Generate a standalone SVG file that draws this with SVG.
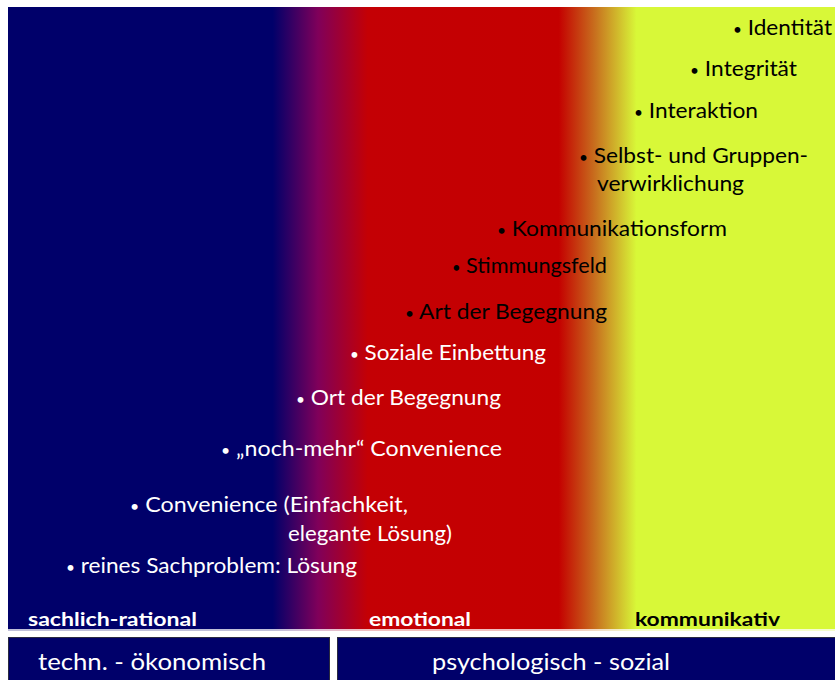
<svg xmlns="http://www.w3.org/2000/svg" width="835" height="680" viewBox="0 0 835 680">
<defs>
<linearGradient id="band" gradientUnits="userSpaceOnUse" x1="8" y1="0" x2="835" y2="0">
<stop offset="0" stop-color="#00006a"/>
<stop offset="0.32" stop-color="#00006a"/>
<stop offset="0.375" stop-color="#80005a"/>
<stop offset="0.435" stop-color="#c40004"/>
<stop offset="0.666" stop-color="#c40000"/>
<stop offset="0.71" stop-color="#c8701e"/>
<stop offset="0.76" stop-color="#d8f838"/>
<stop offset="1" stop-color="#d8f838"/>
</linearGradient>
<style>
.it{font-family:Lato,"Liberation Sans",sans-serif;font-size:22px}
.b{font-size:15px}
.w{fill:#ffffff}
.k{fill:#000000}
.lab{font-family:Lato,"Liberation Sans",sans-serif;font-size:19px;font-weight:bold}
.box{fill:#00006a;stroke:#2a2a40;stroke-width:1}
.bt{font-family:Lato,"Liberation Sans",sans-serif;font-size:23px;fill:#ffffff}
</style>
</defs>
<rect x="0" y="0" width="835" height="680" fill="#ffffff"/>
<rect id="band-bg" x="8" y="7" width="827" height="624" fill="url(#band)"/>
<rect x="8" y="629" width="827" height="2" fill="#ffffff" opacity="0.75"/>
<g id="connectors"/>
<g id="n-identitaet"><text class="it k" x="733" y="35" textLength="99" lengthAdjust="spacingAndGlyphs"><tspan class="b">•</tspan> Identität</text></g>
<g id="n-integritaet"><text class="it k" x="690" y="76" textLength="107" lengthAdjust="spacingAndGlyphs"><tspan class="b">•</tspan> Integrität</text></g>
<g id="n-interaktion"><text class="it k" x="634" y="118" textLength="124" lengthAdjust="spacingAndGlyphs"><tspan class="b">•</tspan> Interaktion</text></g>
<g id="n-selbst"><text class="it k" x="579" y="163" textLength="229" lengthAdjust="spacingAndGlyphs"><tspan class="b">•</tspan> Selbst- und Gruppen-</text><text class="it k" x="597" y="191" textLength="147" lengthAdjust="spacingAndGlyphs">verwirklichung</text></g>
<g id="n-kommform"><text class="it k" x="497" y="236" textLength="230" lengthAdjust="spacingAndGlyphs"><tspan class="b">•</tspan> Kommunikationsform</text></g>
<g id="n-stimmung"><text class="it k" x="452" y="273" textLength="155" lengthAdjust="spacingAndGlyphs"><tspan class="b">•</tspan> Stimmungsfeld</text></g>
<g id="n-art"><text class="it k" x="405" y="319" textLength="202" lengthAdjust="spacingAndGlyphs"><tspan class="b">•</tspan> Art der Begegnung</text></g>
<g id="n-sozial"><text class="it w" x="350" y="360" textLength="196" lengthAdjust="spacingAndGlyphs"><tspan class="b">•</tspan> Soziale Einbettung</text></g>
<g id="n-ort"><text class="it w" x="296" y="405" textLength="205" lengthAdjust="spacingAndGlyphs"><tspan class="b">•</tspan> Ort der Begegnung</text></g>
<g id="n-nochmehr"><text class="it w" x="221" y="456" textLength="281" lengthAdjust="spacingAndGlyphs"><tspan class="b">•</tspan> „noch-mehr“ Convenience</text></g>
<g id="n-convenience"><text class="it w" x="130" y="512" textLength="278" lengthAdjust="spacingAndGlyphs"><tspan class="b">•</tspan> Convenience (Einfachkeit,</text><text class="it w" x="288" y="541" textLength="164" lengthAdjust="spacingAndGlyphs">elegante Lösung)</text></g>
<g id="n-reines"><text class="it w" x="66" y="573" textLength="291" lengthAdjust="spacingAndGlyphs"><tspan class="b">•</tspan> reines Sachproblem: Lösung</text></g>
<g id="l-rational"><text class="lab w" x="28" y="626" textLength="169" lengthAdjust="spacingAndGlyphs">sachlich-rational</text></g>
<g id="l-emotional"><text class="lab w" x="369" y="626" textLength="102" lengthAdjust="spacingAndGlyphs">emotional</text></g>
<g id="l-kommunikativ"><text class="lab k" x="635" y="626" textLength="145" lengthAdjust="spacingAndGlyphs">kommunikativ</text></g>
<g id="b-techn"><rect class="box" x="8.5" y="637.5" width="321" height="44"/><text class="bt" x="38" y="670" textLength="228" lengthAdjust="spacingAndGlyphs">techn. - ökonomisch</text></g>
<g id="b-psych"><rect class="box" x="337.5" y="637.5" width="499" height="44"/><text class="bt" x="432" y="670" textLength="238" lengthAdjust="spacingAndGlyphs">psychologisch - sozial</text></g>
</svg>
